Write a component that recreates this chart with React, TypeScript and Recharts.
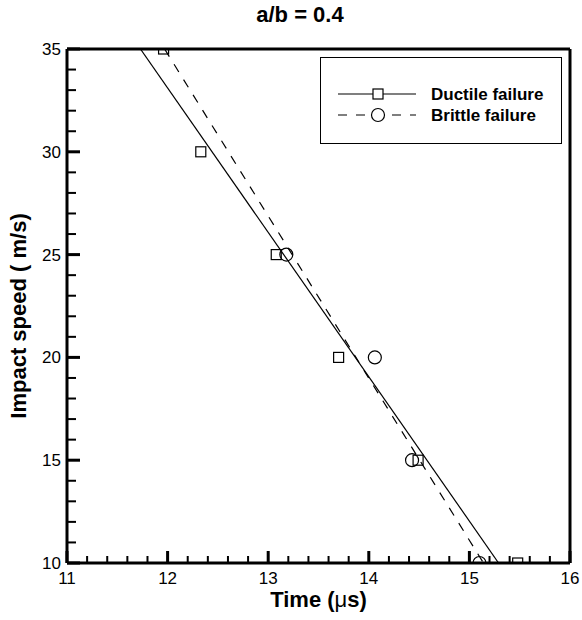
import React from "react";
import {
  ComposedChart,
  Scatter,
  XAxis,
  YAxis,
  ReferenceLine,
  Label,
} from "recharts";

const FONT = '"Liberation Sans", Arial, Helvetica, sans-serif';

// measured points
const DUCTILE_TIME = [11.96, 12.33, 13.08, 13.7, 14.49, 15.48];
const DUCTILE_SPEED = [35, 30, 25, 20, 15, 10];
const BRITTLE_TIME = [13.18, 14.06, 14.43, 15.1];
const BRITTLE_SPEED = [25, 20, 15, 10];

// fitted lines (end points)
const DUCTILE_FIT_TIME = [11.73, 15.29];
const DUCTILE_FIT_SPEED = [35, 10];
const BRITTLE_FIT_TIME = [11.97, 15.14];
const BRITTLE_FIT_SPEED = [35, 10];

const X_TICKS = [
  11, 11.2, 11.4, 11.6, 11.8, 12, 12.2, 12.4, 12.6, 12.8, 13, 13.2, 13.4,
  13.6, 13.8, 14, 14.2, 14.4, 14.6, 14.8, 15, 15.2, 15.4, 15.6, 15.8, 16,
];
const Y_TICKS = [
  10, 11, 12, 13, 14, 15, 16, 17, 18, 19, 20, 21, 22, 23, 24, 25, 26, 27, 28,
  29, 30, 31, 32, 33, 34, 35,
];

const SERIES = ["Ductile failure", "Brittle failure"];

const toPoints = (xs: number[], ys: number[]) =>
  xs.map((x, i) => ({ x, y: ys[i] }));

const ductile = toPoints(DUCTILE_TIME, DUCTILE_SPEED);
const brittle = toPoints(BRITTLE_TIME, BRITTLE_SPEED);
const ductileFit = toPoints(DUCTILE_FIT_TIME, DUCTILE_FIT_SPEED);
const brittleFit = toPoints(BRITTLE_FIT_TIME, BRITTLE_FIT_SPEED);

const isMajor = (v: number) => Math.abs(v - Math.round(v)) < 1e-6;

const XTick = (props: any) => {
  const { x, y, payload } = props;
  const major = isMajor(payload.value);
  const w = major ? 3 : 2;
  return (
    <g>
      <rect
        x={x - w / 2}
        y={y - (major ? 12 : 7)}
        width={w}
        height={major ? 12 : 7}
        fill="#000"
      />
      {major && (
        <text
          x={x}
          y={y + 21}
          textAnchor="middle"
          fontSize={17}
          fontFamily={FONT}
          fill="#000"
        >
          {Math.round(payload.value)}
        </text>
      )}
    </g>
  );
};

const YTick = (props: any) => {
  const { x, y, payload } = props;
  const major = payload.value % 5 === 0;
  const w = major ? 3 : 2;
  return (
    <g>
      <rect
        x={x}
        y={y - w / 2}
        width={major ? 13 : 9}
        height={w}
        fill="#000"
      />
      {major && (
        <text
          x={x - 6}
          y={y + 6}
          textAnchor="end"
          fontSize={17}
          fontFamily={FONT}
          fill="#000"
        >
          {payload.value}
        </text>
      )}
    </g>
  );
};

const Square = (p: any) => (
  <rect
    x={p.cx - 5}
    y={p.cy - 5}
    width={10}
    height={10}
    fill="none"
    stroke="#000"
    strokeWidth={1.2}
  />
);

const Circle = (p: any) => (
  <circle cx={p.cx} cy={p.cy} r={6.5} fill="none" stroke="#000" strokeWidth={1.2} />
);

const NoDot = () => <g />;

const XLabel = (props: any) => {
  const { viewBox } = props;
  return (
    <text
      x={viewBox.x + viewBox.width / 2}
      y={607}
      textAnchor="middle"
      fontSize={22}
      fontWeight="bold"
      fontFamily={FONT}
      fill="#000"
    >
      Time (<tspan fontWeight="normal">μ</tspan>s)
    </text>
  );
};

const YLabel = () => {
  const cx = 26;
  const cy = 316;
  return (
    <text
      x={cx}
      y={cy}
      transform={`rotate(-90 ${cx} ${cy})`}
      textAnchor="middle"
      fontSize={22}
      fontWeight="bold"
      fontFamily={FONT}
      fill="#000"
    >
      Impact speed ( m/s)
    </text>
  );
};

const LegendBox = () => (
  <div
    style={{
      position: "absolute",
      left: 320,
      top: 57,
      width: 242,
      height: 87,
      border: "1px solid #000",
      boxSizing: "border-box",
      background: "#fff",
    }}
  >
    <svg width={240} height={85}>
      <line x1={17} x2={95} y1={36} y2={36} stroke="#000" strokeWidth={1.2} />
      <rect x={52} y={31} width={10} height={10} fill="#fff" stroke="#000" strokeWidth={1.2} />
      <text x={110} y={42} fontSize={17} fontWeight="bold" fontFamily={FONT}>
        {SERIES[0]}
      </text>
      <line
        x1={17}
        x2={95}
        y1={57}
        y2={57}
        stroke="#000"
        strokeWidth={1.2}
        strokeDasharray="9 9"
      />
      <circle cx={57} cy={57} r={6.5} fill="#fff" stroke="#000" strokeWidth={1.2} />
      <text x={110} y={63} fontSize={17} fontWeight="bold" fontFamily={FONT}>
        {SERIES[1]}
      </text>
    </svg>
  </div>
);

export default function App() {
  return (
    <div
      style={{
        position: "absolute",
        left: 0,
        top: 0,
        width: 582,
        height: 620,
        background: "#fff",
        fontFamily: FONT,
      }}
    >
      <div
        style={{
          position: "absolute",
          left: 0,
          width: 600,
          top: 2,
          textAlign: "center",
          fontSize: 22,
          fontWeight: "bold",
        }}
      >
        a/b = 0.4
      </div>
      <ComposedChart
        width={582}
        height={620}
        margin={{ top: 49, right: 12, bottom: 0, left: 0 }}
      >
        <XAxis
          type="number"
          dataKey="x"
          domain={[11, 16]}
          ticks={X_TICKS}
          interval={0}
          height={57}
          tickSize={0}
          tickMargin={0}
          tickLine={false}
          tick={<XTick />}
          axisLine={false}
          allowDataOverflow
        >
          <Label content={<XLabel />} />
        </XAxis>
        <YAxis
          type="number"
          dataKey="y"
          domain={[10, 35]}
          ticks={Y_TICKS}
          interval={0}
          width={67}
          tickSize={0}
          tickMargin={0}
          tickLine={false}
          tick={<YTick />}
          axisLine={false}
          allowDataOverflow
        >
          <Label content={<YLabel />} />
        </YAxis>
        <ReferenceLine y={35} stroke="#000" strokeWidth={3} />
        <ReferenceLine y={10} stroke="#000" strokeWidth={3} />
        <ReferenceLine x={11} stroke="#000" strokeWidth={3} />
        <ReferenceLine x={16} stroke="#000" strokeWidth={3} />
        <Scatter
          name={SERIES[0] + " fit"}
          data={ductileFit}
          line={{ stroke: "#000", strokeWidth: 1.2 }}
          shape={<NoDot />}
          isAnimationActive={false}
        />
        <Scatter
          name={SERIES[1] + " fit"}
          data={brittleFit}
          line={{ stroke: "#000", strokeWidth: 1.2, strokeDasharray: "9 9" }}
          shape={<NoDot />}
          isAnimationActive={false}
        />
        <Scatter
          name={SERIES[0]}
          data={ductile}
          shape={<Square />}
          isAnimationActive={false}
        />
        <Scatter
          name={SERIES[1]}
          data={brittle}
          shape={<Circle />}
          isAnimationActive={false}
        />
      </ComposedChart>
      <LegendBox />
    </div>
  );
}
